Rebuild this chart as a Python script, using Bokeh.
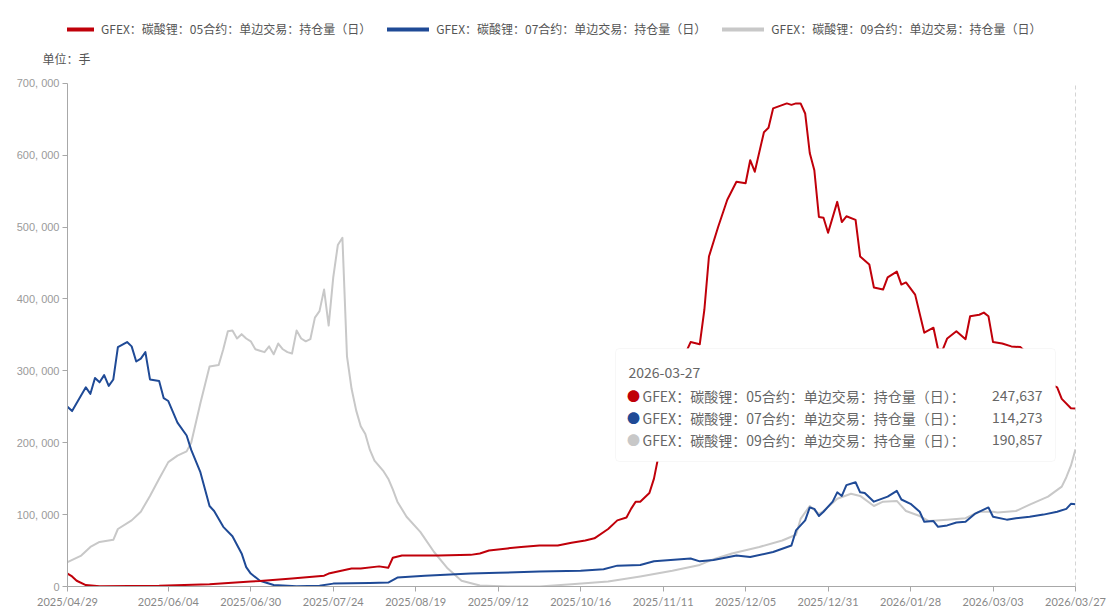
from bokeh.plotting import figure
from bokeh.models import (ColumnDataSource, FixedTicker, Legend, LegendItem, Label,
                          BoxAnnotation, Range1d)
from bokeh.embed import file_html
from bokeh.resources import INLINE

# ---------------- data ----------------
# x axis: trading-day index (0 = 2025/04/29 ... 220 = 2026/03/27)
tick_index = [0, 22, 40, 58, 76, 94, 112, 130, 148, 166, 184, 202, 220]
tick_labels = ["2025/04/29", "2025/06/04", "2025/06/30", "2025/07/24", "2025/08/19",
               "2025/09/12", "2025/10/16", "2025/11/11", "2025/12/05", "2025/12/31",
               "2026/01/28", "2026/03/03", "2026/03/27"]
y_ticks = [0, 100000, 200000, 300000, 400000, 500000, 600000, 700000]
y_tick_labels = ["0", "100, 000", "200, 000", "300, 000", "400, 000", "500, 000", "600, 000", "700, 000"]

series_names = ["GFEX：碳酸锂：05合约：单边交易：持仓量（日）",
                "GFEX：碳酸锂：07合约：单边交易：持仓量（日）",
                "GFEX：碳酸锂：09合约：单边交易：持仓量（日）"]
series_colors = ["#C0000A", "#1F4A96", "#C8C8C8"]

# open interest, thousand lots
c05_x = [0, 1, 2, 4, 7, 20, 31, 40, 42, 49, 56, 57, 59, 62, 64, 68, 70, 71, 73, 75, 81, 88, 90, 92,
         96, 99, 103, 107, 110, 113, 115, 118, 120, 122, 123, 124, 125, 127, 128, 129, 130, 131,
         132, 133, 134, 135, 136, 138, 139, 140, 142, 144, 146, 148, 149, 150, 152, 153, 154, 157,
         158, 159, 160, 161, 162, 163, 164, 165, 166, 168, 169, 170, 172, 173, 175, 176, 178, 179,
         181, 182, 183, 185, 187, 189, 190, 191, 192, 194, 196, 197, 199, 200, 201, 202, 204, 206,
         208, 209, 211, 213, 215, 216, 217, 219, 220]
c05_k = [18, 14, 8, 2, 0.5, 1, 3, 7, 7.5, 11, 15, 18, 21, 25, 25, 28, 26, 40, 43, 43, 43, 44, 46, 50,
         53, 55, 57, 57, 61, 64, 67, 80, 92, 96, 108, 118, 118, 130, 150, 182, 215, 250,
         282, 305, 318, 326, 340, 337, 385, 459, 500, 538, 563, 561, 593, 577, 632, 638, 665, 672,
         670, 672, 672, 658, 603, 579, 514, 513, 492, 535, 507, 515, 510, 459, 448, 416, 413, 430,
         438, 420, 423, 406, 353, 360, 330, 329, 345, 355, 344, 376, 378, 381, 376, 340, 338, 334,
         333, 327, 315, 300, 280, 277, 261, 248, 247.637]

c07_x = [0, 1, 4, 5, 6, 7, 8, 9, 10, 11, 13, 14, 15, 16, 17, 18, 20, 21, 22, 24, 26, 27, 29, 31, 32,
         34, 36, 38, 39, 40, 42, 45, 50, 55, 58, 62, 66, 70, 72, 78, 88, 94, 103, 112, 117, 120, 125,
         128, 136, 138, 141, 146, 149, 154, 158, 159, 161, 162, 163, 164, 165, 167, 168, 169, 170,
         172, 173, 174, 176, 179, 181, 182, 184, 186, 187, 189, 190, 192, 194, 196, 198, 201, 202,
         205, 207, 210, 213, 216, 218, 219, 220]
c07_k = [250, 244, 277, 268, 290, 284, 294, 279, 288, 333, 340, 334, 313, 317, 326, 288, 286, 262, 258,
         228, 210, 190, 159, 112, 105, 83, 70, 46, 27, 18, 8, 2, 0.5, 1, 4, 4.5, 5, 5.5, 12.5, 15, 18,
         19, 21, 22, 24, 29, 30, 35, 39, 35, 37, 43, 41, 48, 57, 78, 92, 110, 108, 98, 104, 118, 131,
         126, 141, 145, 131, 130, 118, 125, 133, 121, 115, 104, 90, 91, 83, 85, 89, 90, 101, 110, 97,
         93, 95, 97, 100, 104, 108, 115, 114.273]

c09_x = [0, 3, 5, 7, 10, 11, 14, 16, 18, 20, 22, 24, 26, 27, 29, 31, 33, 34, 35, 36, 37, 38, 39, 40,
         41, 42, 43, 44, 45, 46, 47, 48, 49, 50, 51, 52, 53, 54, 55, 56, 57, 58, 59, 60, 61, 62, 63,
         64, 65, 66, 67, 69, 70, 71, 72, 74, 77, 80, 83, 86, 90, 96, 103, 110, 118, 125, 132, 138,
         141, 145, 151, 156, 159, 160, 162, 164, 165, 168, 171, 173, 176, 178, 181, 183, 186, 188,
         192, 196, 199, 202, 203, 207, 210, 214, 217, 218, 219, 220]
c09_k = [34, 43, 55, 62, 65, 80, 92, 104, 126, 150, 173, 182, 188, 200, 255, 306, 308, 330, 355, 356,
         345, 351, 345, 341, 330, 328, 326, 334, 323, 338, 330, 326, 324, 356, 345, 341, 344, 374,
         383, 413, 363, 430, 475, 485, 320, 275, 245, 223, 212, 190, 175, 160, 150, 135, 118, 97, 76,
         48, 25, 8, 1.5, 0, 0, 3, 7, 14, 22, 30, 38, 46, 55, 64, 72, 94, 112, 101, 105, 122, 129,
         126, 112, 118, 119, 105, 98, 91, 93, 95, 104, 104, 103, 105, 114, 125, 139, 152, 168,
         190.857]

unit_text = "单位：手"
tooltip_date = "2026-03-27"
tooltip_values = ["247,637", "114,273", "190,857"]

# ---------------- figure ----------------
FONT = "Noto Sans CJK SC"
FL = 67                  # frame left (page px)
FW = 1008                # frame width
AX_TOP, AX_BOT = 83, 588 # page y of 700,000 and 0
FT = 18                  # frame top (frame extends above the axis so legend texts are not clipped)
FH = AX_BOT - FT
y_max = 700000
y_end = y_max * FH / (AX_BOT - AX_TOP)

p = figure(width=1107, height=610, output_backend="svg", toolbar_location=None,
           x_range=Range1d(0, 220), y_range=Range1d(0, y_end),
           min_border_left=FL, min_border_right=1107 - FL - FW,
           min_border_top=FT, min_border_bottom=610 - AX_BOT)
p.outline_line_color = None
p.xgrid.visible = False
p.ygrid.visible = False
p.background_fill_color = "white"
p.border_fill_color = "white"

xs = [c05_x, c07_x, c09_x]
ks = [c05_k, c07_k, c09_k]
for i in [2, 1, 0]:
    src = ColumnDataSource(dict(x=xs[i], y=[v * 1000 for v in ks[i]]))
    p.line("x", "y", source=src, line_color=series_colors[i], line_width=2, line_join="round")

# axes
xa = p.xaxis[0]
xa.ticker = FixedTicker(ticks=tick_index)
xa.major_label_overrides = {t: l for t, l in zip(tick_index, tick_labels)}
xa.minor_tick_line_color = None
xa.major_tick_in = 0
xa.major_tick_out = 5
xa.major_label_standoff = 3
xa.axis_line_color = "#A8A8A8"
xa.major_tick_line_color = "#A8A8A8"
xa.major_label_text_color = "#888888"
xa.major_label_text_font = "Lato"
xa.major_label_text_font_size = "11px"

ya = p.yaxis[0]
ya.ticker = FixedTicker(ticks=y_ticks)
ya.bounds = (0, y_max)
ya.major_label_overrides = {t: l for t, l in zip(y_ticks, y_tick_labels)}
ya.minor_tick_line_color = None
ya.major_tick_in = 0
ya.major_tick_out = 5
ya.major_label_standoff = 3
ya.axis_line_color = "#A8A8A8"
ya.major_tick_line_color = "#A8A8A8"
ya.major_label_text_color = "#9A9A9A"
ya.major_label_text_font = "Liberation Sans"
ya.major_label_text_font_size = "11px"

# crosshair at last date
p.segment(x0=[tick_index[-1]], y0=[0], x1=[tick_index[-1]], y1=[y_max],
          line_color="#AAAAAA", line_dash="4 3", line_width=1)

def sx(px):
    return px - FL

def sy(py):
    return AX_BOT - py

# legend (thick line symbols; proxies hold only each series' first point, so draw nothing extra)
items = []
for i in range(3):
    r = p.line(x=xs[i][:1], y=[ks[i][0] * 1000], line_color=series_colors[i], line_width=4,
               line_cap="round")
    items.append(LegendItem(label=series_names[i], renderers=[r]))
legend = Legend(items=items, orientation="horizontal", location=(sx(52), sy(39)),
                padding=0, margin=0, spacing=16, glyph_width=42, glyph_height=12,
                label_standoff=7, label_height=12, label_text_font_size="12px",
                label_text_color="#555555", label_text_font=FONT,
                border_line_color=None, background_fill_alpha=0)
p.add_layout(legend)

# unit label lives in the (blank) top border panel so the frame does not clip it
p.add_layout(Label(x=42 - FL, y=FT - 58, x_units="screen", y_units="screen", text=unit_text,
                   text_font=FONT, text_font_size="12px", text_color="#555555",
                   text_baseline="middle"), "above")

# tooltip box
p.add_layout(BoxAnnotation(left=sx(615), right=sx(1055), top=sy(350), bottom=sy(463),
                           left_units="screen", right_units="screen",
                           top_units="screen", bottom_units="screen",
                           fill_color="white", fill_alpha=1, line_color="#E4E4E4",
                           line_width=1, border_radius=4))
p.add_layout(Label(x=sx(628), y=sy(374), x_units="screen", y_units="screen", text=tooltip_date,
                   text_font=FONT, text_font_size="14px", text_color="#666666",
                   text_baseline="middle"))
row_y = [397, 419, 441]
for i in range(3):
    p.add_layout(Label(x=sx(633), y=sy(row_y[i]), x_units="screen", y_units="screen", text="●",
                       text_font=FONT, text_font_size="13px", text_color=series_colors[i],
                       text_baseline="middle", text_align="center"))
    p.add_layout(Label(x=sx(642), y=sy(row_y[i]), x_units="screen", y_units="screen",
                       text=series_names[i] + "：", text_font=FONT, text_font_size="14px",
                       text_color="#666666", text_baseline="middle"))
    p.add_layout(Label(x=sx(1042), y=sy(row_y[i]), x_units="screen", y_units="screen",
                       text=tooltip_values[i], text_font=FONT, text_font_size="14px",
                       text_color="#666666", text_baseline="middle", text_align="right"))

open("out.html", "w").write(file_html(p, INLINE))
